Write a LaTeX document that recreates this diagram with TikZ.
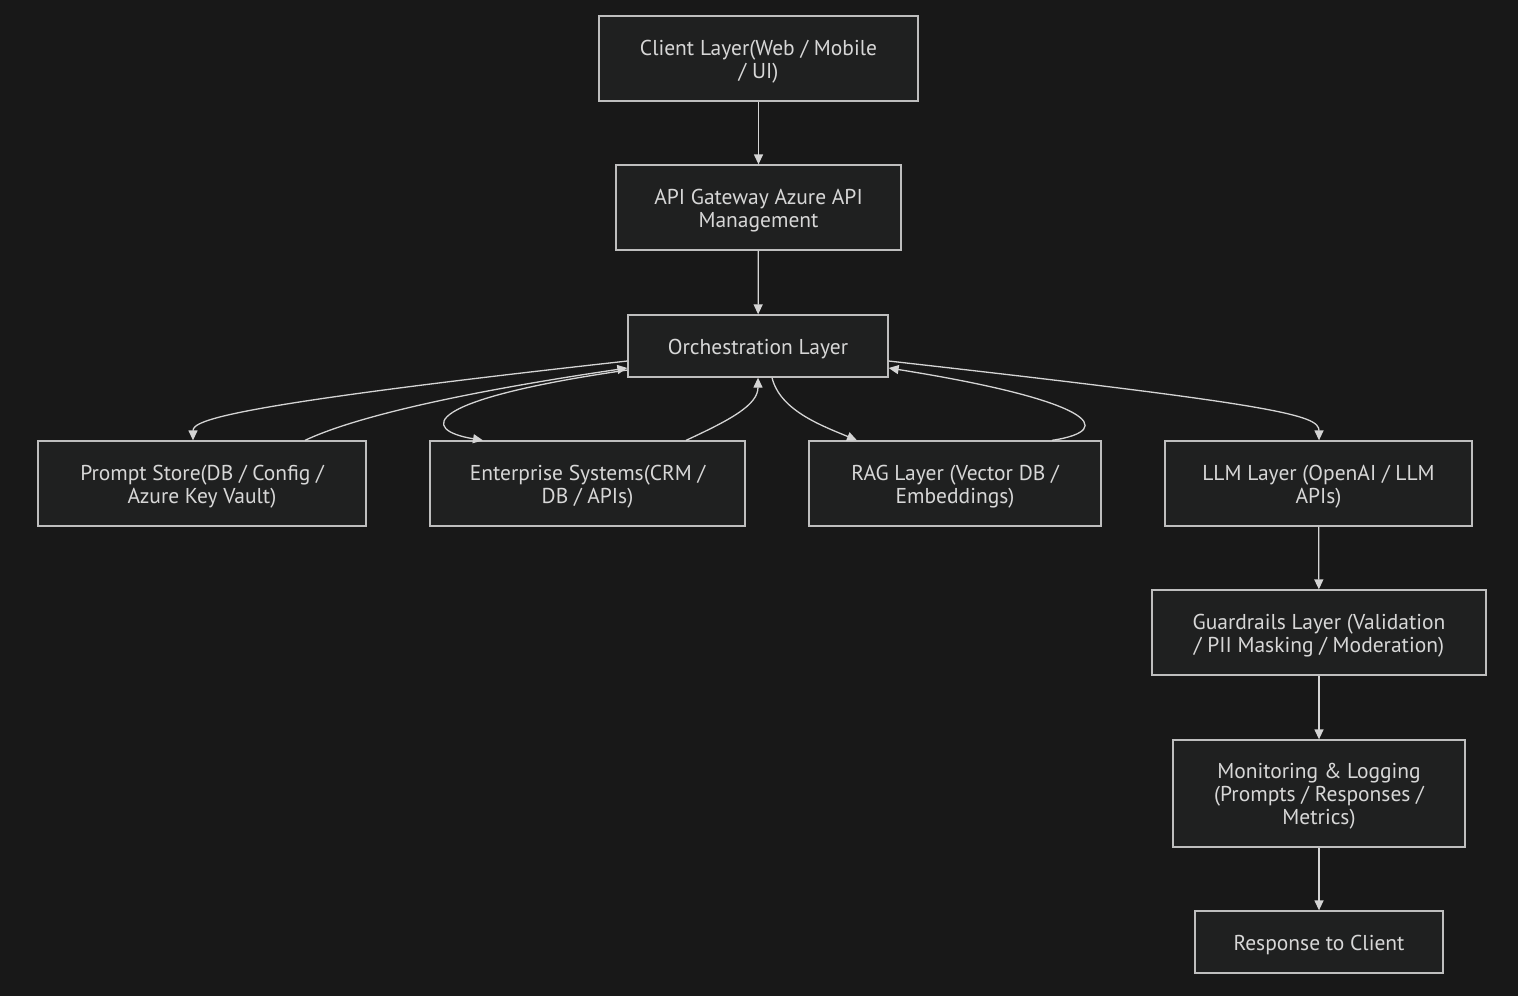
\documentclass[tikz,border=0pt]{standalone}
\usepackage{fontspec}
\setmainfont{PT Sans}
\usetikzlibrary{arrows.meta}
\definecolor{bgc}{RGB}{24,24,24}
\definecolor{boxfill}{RGB}{31,32,32}
\definecolor{boxline}{RGB}{190,190,190}
\definecolor{txt}{RGB}{215,215,215}
\definecolor{edge}{RGB}{212,212,212}
\newsavebox\tbox
\newcommand\boxtext[1]{\sbox\tbox{\begin{tabular}{@{}c@{}}#1\end{tabular}}\raisebox{-3.5pt}[\ht\tbox][\dp\tbox]{\usebox\tbox}}
\tikzset{
  box/.style={draw=boxline, fill=boxfill, line width=1.3pt, text=txt,
    font=\fontsize{21.5}{23}\selectfont, inner sep=0pt, anchor=center},
  conn/.style={draw=edge, line width=1.3pt, -{Triangle[length=10pt,width=9pt]}}
}
\begin{document}
\begin{tikzpicture}[x=1pt,y=-1pt]
\fill[bgc] (0,0) rectangle (1518,996);
\useasboundingbox (0,0) rectangle (1518,996);
\node[box, minimum width=319pt, minimum height=85pt] (client) at (758.5,58.5) {\boxtext{Client Layer(Web / Mobile\\/ UI)}};
\node[box, minimum width=285pt, minimum height=85pt] (api) at (758.5,207.5) {\boxtext{API Gateway Azure API\\Management}};
\node[box, minimum width=260pt, minimum height=62pt] (orch) at (758,346) {\boxtext{Orchestration Layer}};
\node[box, minimum width=328pt, minimum height=85pt] (prompt) at (202,483.5) {\boxtext{Prompt Store(DB / Config /\\Azure Key Vault)}};
\node[box, minimum width=315pt, minimum height=85pt] (ent) at (587.5,483.5) {\boxtext{Enterprise Systems(CRM /\\DB / APIs)}};
\node[box, minimum width=292pt, minimum height=85pt] (rag) at (955,483.5) {\boxtext{RAG Layer (Vector DB /\\Embeddings)}};
\node[box, minimum width=307pt, minimum height=85pt] (llm) at (1318.5,483.5) {\boxtext{LLM Layer (OpenAI / LLM\\APIs)}};
\node[box, minimum width=334pt, minimum height=85pt] (guard) at (1319,632.5) {\boxtext{Guardrails Layer (Validation\\/ PII Masking / Moderation)}};
\node[box, minimum width=292pt, minimum height=107pt] (mon) at (1319,793.5) {\boxtext{Monitoring \& Logging\\(Prompts / Responses /\\Metrics)}};
\node[box, minimum width=248pt, minimum height=62pt] (resp) at (1319,942) {\boxtext{Response to Client}};

\draw[conn] (client) -- (api);
\draw[conn] (api) -- (orch);
\draw[conn] (llm) -- (guard);
\draw[conn] (guard) -- (mon);
\draw[conn] (mon) -- (resp);

\draw[conn] ([yshift=-15pt]orch.west) .. controls (230,405) and (193,420) .. ([xshift=-9pt]prompt.north);
\draw[conn] ([xshift=103pt]prompt.north) .. controls (380,405) and (560,378) .. ([yshift=-22pt]orch.west);
\draw[conn] ([yshift=-24pt]orch.west) .. controls (420,400) and (420,430) .. ([xshift=-104.5pt]ent.north);
\draw[conn] ([xshift=98.5pt]ent.north) .. controls (730,420) and (758,405) .. (orch.south);
\draw[conn] ([xshift=14pt]orch.south) .. controls (780,410) and (820,425) .. ([xshift=-98pt]rag.north);
\draw[conn] ([xshift=97pt]rag.north) .. controls (1120,430) and (1090,400) .. ([yshift=-22pt]orch.east);
\draw[conn] ([yshift=-15pt]orch.east) .. controls (1280,405) and (1319,415) .. ([xshift=0.5pt]llm.north);
\end{tikzpicture}
\end{document}
